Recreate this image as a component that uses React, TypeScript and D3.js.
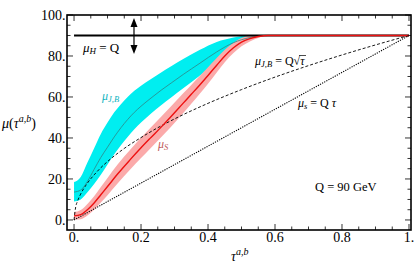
import * as d3 from "d3";

// tau grid and values
const tauCyan = [0, 0.02, 0.04, 0.06, 0.08, 0.1, 0.12, 0.14, 0.16, 0.18, 0.2, 0.23, 0.26, 0.29, 0.326, 0.376, 0.426, 0.476, 0.525, 0.57, 1.0];
const cyanMid = [13.6, 14.6, 18.8, 24.7, 30.5, 35.5, 40.5, 45, 49, 52.5, 55.5, 59.5, 63.3, 66.8, 71, 76.5, 82, 86.5, 89, 90, 90];
const cyanHi = [18.5, 21, 28, 35, 42, 47.5, 52.5, 56.5, 60, 63, 65.5, 68.8, 72, 75, 78.5, 83, 86.8, 89, 90, 90, 90];
const cyanLo = [9, 10, 13.5, 17.5, 22, 27, 32, 36.5, 40.5, 44.2, 47.5, 52, 56, 59.8, 64.3, 70.5, 77, 83, 87.5, 90, 90];

const tauRed = [0, 0.02, 0.04, 0.06, 0.08, 0.1, 0.13, 0.167, 0.2, 0.227, 0.26, 0.287, 0.326, 0.35, 0.376, 0.4, 0.426, 0.45, 0.476, 0.5, 0.525, 0.55, 0.58, 1.0];
const redMid = [2, 2.6, 5, 8.3, 12.3, 16.3, 22.4, 29.3, 35.2, 39.8, 45.3, 50, 57, 61.3, 66, 70.5, 75.5, 80, 84, 86.8, 88.5, 89.5, 90, 90];
const redHi = [3.8, 4.8, 7.8, 11.6, 16.1, 20.5, 27, 34.1, 40.2, 44.8, 50.3, 55, 61.8, 65.9, 70.3, 74.5, 79, 83, 86.5, 88.8, 89.9, 90, 90, 90];
const redLo = [0.2, 0.4, 2.2, 5, 8.5, 12.1, 17.8, 24.5, 30.2, 34.8, 40.3, 45, 52.2, 56.7, 61.7, 66.5, 72, 77, 81.5, 84.8, 87.1, 88.8, 90, 90];

// mu_J,B = Q sqrt(tau), mu_s = Q tau
const tauDash = [0, 0.005, 0.01, 0.02, 0.04, 0.06, 0.08, 0.1, 0.15, 0.2, 0.25, 0.3, 0.4, 0.5, 0.6, 0.7, 0.8, 0.9, 1.0];
const dashVals = [0, 6.4, 9, 12.7, 18, 22, 25.5, 28.5, 34.9, 40.2, 45, 49.3, 56.9, 63.6, 69.7, 75.3, 80.5, 85.4, 90];
const tauDot = [0, 1];
const dotVals = [0, 90];
const muH = 90;

const xTicks = [0, 0.2, 0.4, 0.6, 0.8, 1.0];
const xTickLabels = ["0.", "0.2", "0.4", "0.6", "0.8", "1."];
const yTicks = [0, 20, 40, 60, 80, 100];
const yTickLabels = ["0.", "20.", "40.", "60.", "80.", "100."];

const W = 416;
const H = 267;
const margin = { top: 15, right: 5, bottom: 37, left: 67 };
const font = "Liberation Serif";

export default function App() {
  const x = d3.scaleLinear().domain([-0.021, 1.006]).range([margin.left, W - margin.right]);
  const y = d3.scaleLinear().domain([-4.9, 100]).range([H - margin.bottom, margin.top]);

  const x0 = margin.left;
  const x1 = W - margin.right;
  const y0 = H - margin.bottom;
  const y1 = margin.top;

  const band = (t: number[], lo: number[], hi: number[]) =>
    d3.area<number>()
      .x((i) => x(t[i]))
      .y0((i) => y(lo[i]))
      .y1((i) => y(hi[i]))
      .curve(d3.curveMonotoneX)(d3.range(t.length));

  const curve = (t: number[], v: number[], c = d3.curveMonotoneX) =>
    d3.line<number>()
      .x((i) => x(t[i]))
      .y((i) => y(v[i]))
      .curve(c)(d3.range(t.length));

  const minorX = d3.range(0, 1.0001, 0.05);
  const minorY = d3.range(0, 100.001, 5);

  const ax = x(0.179);
  const aTop = y(98.5);
  const aBot = y(81);
  const ts = { fontFamily: font };

  return (
    <svg width={W} height={H} style={{ position: "absolute", left: 0, top: 0, background: "#fff", fontFamily: font }}>
      {/* bands */}
      <path d={band(tauCyan, cyanLo, cyanHi) ?? ""} fill="#00eef0" />
      <path d={band(tauRed, redLo, redHi) ?? ""} fill="#fbaaaa" />

      {/* reference curves */}
      <path d={curve(tauDash, dashVals) ?? ""} fill="none" stroke="#000" strokeWidth={0.9} strokeDasharray="3,2" />
      <path d={curve(tauDot, dotVals, d3.curveLinear) ?? ""} fill="none" stroke="#000" strokeWidth={1.1} strokeDasharray="1.2,1.2" />

      {/* central curves */}
      <path d={curve(tauCyan, cyanMid) ?? ""} fill="none" stroke="#2e8585" strokeWidth={0.8} />
      <line x1={x(0)} x2={x(1)} y1={y(muH)} y2={y(muH)} stroke="#000" strokeWidth={2} />
      <path d={curve(tauRed, redMid) ?? ""} fill="none" stroke="#ee1111" strokeWidth={1.4} />

      {/* arrow */}
      <line x1={ax} x2={ax} y1={aTop + 6} y2={aBot - 6} stroke="#000" strokeWidth={1.2} />
      <path d={`M${ax},${aTop} L${ax - 3.5},${aTop + 9} L${ax + 3.5},${aTop + 9} Z`} fill="#000" />
      <path d={`M${ax},${aBot} L${ax - 3.5},${aBot - 9} L${ax + 3.5},${aBot - 9} Z`} fill="#000" />

      {/* frame */}
      <rect x={x0} y={y1} width={x1 - x0} height={y0 - y1} fill="none" stroke="#000" strokeWidth={1.6} />

      {/* ticks */}
      {minorX.map((t, i) => {
        const l = i % 4 === 0 ? 6 : 3.5;
        return (
          <g key={"mx" + i} stroke="#000" strokeWidth={0.8}>
            <line x1={x(t)} x2={x(t)} y1={y0} y2={y0 - l} />
            <line x1={x(t)} x2={x(t)} y1={y1} y2={y1 + l} />
          </g>
        );
      })}
      {minorY.map((t, i) => {
        const l = i % 4 === 0 ? 6 : 3.5;
        return (
          <g key={"my" + i} stroke="#000" strokeWidth={0.8}>
            <line x1={x0} x2={x0 + l} y1={y(t)} y2={y(t)} />
            <line x1={x1} x2={x1 - l} y1={y(t)} y2={y(t)} />
          </g>
        );
      })}

      {/* tick labels */}
      {xTicks.map((t, i) => (
        <text key={"xl" + i} x={x(t)} y={242} textAnchor="middle" fontSize={14} style={ts}>
          {xTickLabels[i]}
        </text>
      ))}
      {yTicks.map((t, i) => (
        <text key={"yl" + i} x={65.5} y={y(t)} dy="0.35em" textAnchor="end" fontSize={14} style={ts}>
          {yTickLabels[i]}
        </text>
      ))}

      {/* axis titles */}
      <text x={2} y={128} fontSize={14} style={ts}>
        <tspan fontStyle="italic">μ</tspan>(<tspan fontStyle="italic">τ</tspan>
        <tspan fontStyle="italic" fontSize={10} dy={-6}>a,b</tspan>
        <tspan dy={6}>)</tspan>
      </text>
      <text x={231} y={261} fontSize={14} style={ts}>
        <tspan fontStyle="italic">τ</tspan>
        <tspan fontStyle="italic" fontSize={10} dy={-6}>a,b</tspan>
      </text>

      {/* annotations */}
      <text x={83} y={52} fontSize={13} style={ts}>
        <tspan fontStyle="italic">μ</tspan>
        <tspan fontStyle="italic" fontSize={9} dy={2}>H</tspan>
        <tspan dy={-2}> = Q</tspan>
      </text>
      <text x={102} y={100} fontSize={12} fill="#10b4c0" style={ts}>
        <tspan fontStyle="italic">μ</tspan>
        <tspan fontStyle="italic" fontSize={8.5} dy={2}>J,B</tspan>
      </text>
      <text x={158} y={148} fontSize={12} fill="#c05a5a" style={ts}>
        <tspan fontStyle="italic">μ</tspan>
        <tspan fontStyle="italic" fontSize={8.5} dy={2}>S</tspan>
      </text>
      <text x={255} y={65} fontSize={12} style={ts}>
        <tspan fontStyle="italic">μ</tspan>
        <tspan fontStyle="italic" fontSize={8.5} dy={2}>J,B</tspan>
        <tspan dy={-2}> = Q</tspan>
        <tspan>√</tspan>
        <tspan fontStyle="italic">τ</tspan>
      </text>
      <line x1={299} x2={306} y1={55.5} y2={55.5} stroke="#000" strokeWidth={0.7} />
      <text x={298} y={107} fontSize={12} style={ts}>
        <tspan fontStyle="italic">μ</tspan>
        <tspan fontStyle="italic" fontSize={8.5} dy={2}>s</tspan>
        <tspan dy={-2}> = Q </tspan>
        <tspan fontStyle="italic">τ</tspan>
      </text>
      <text x={315} y={191} fontSize={12.5} style={ts}>Q = 90 GeV</text>
    </svg>
  );
}
